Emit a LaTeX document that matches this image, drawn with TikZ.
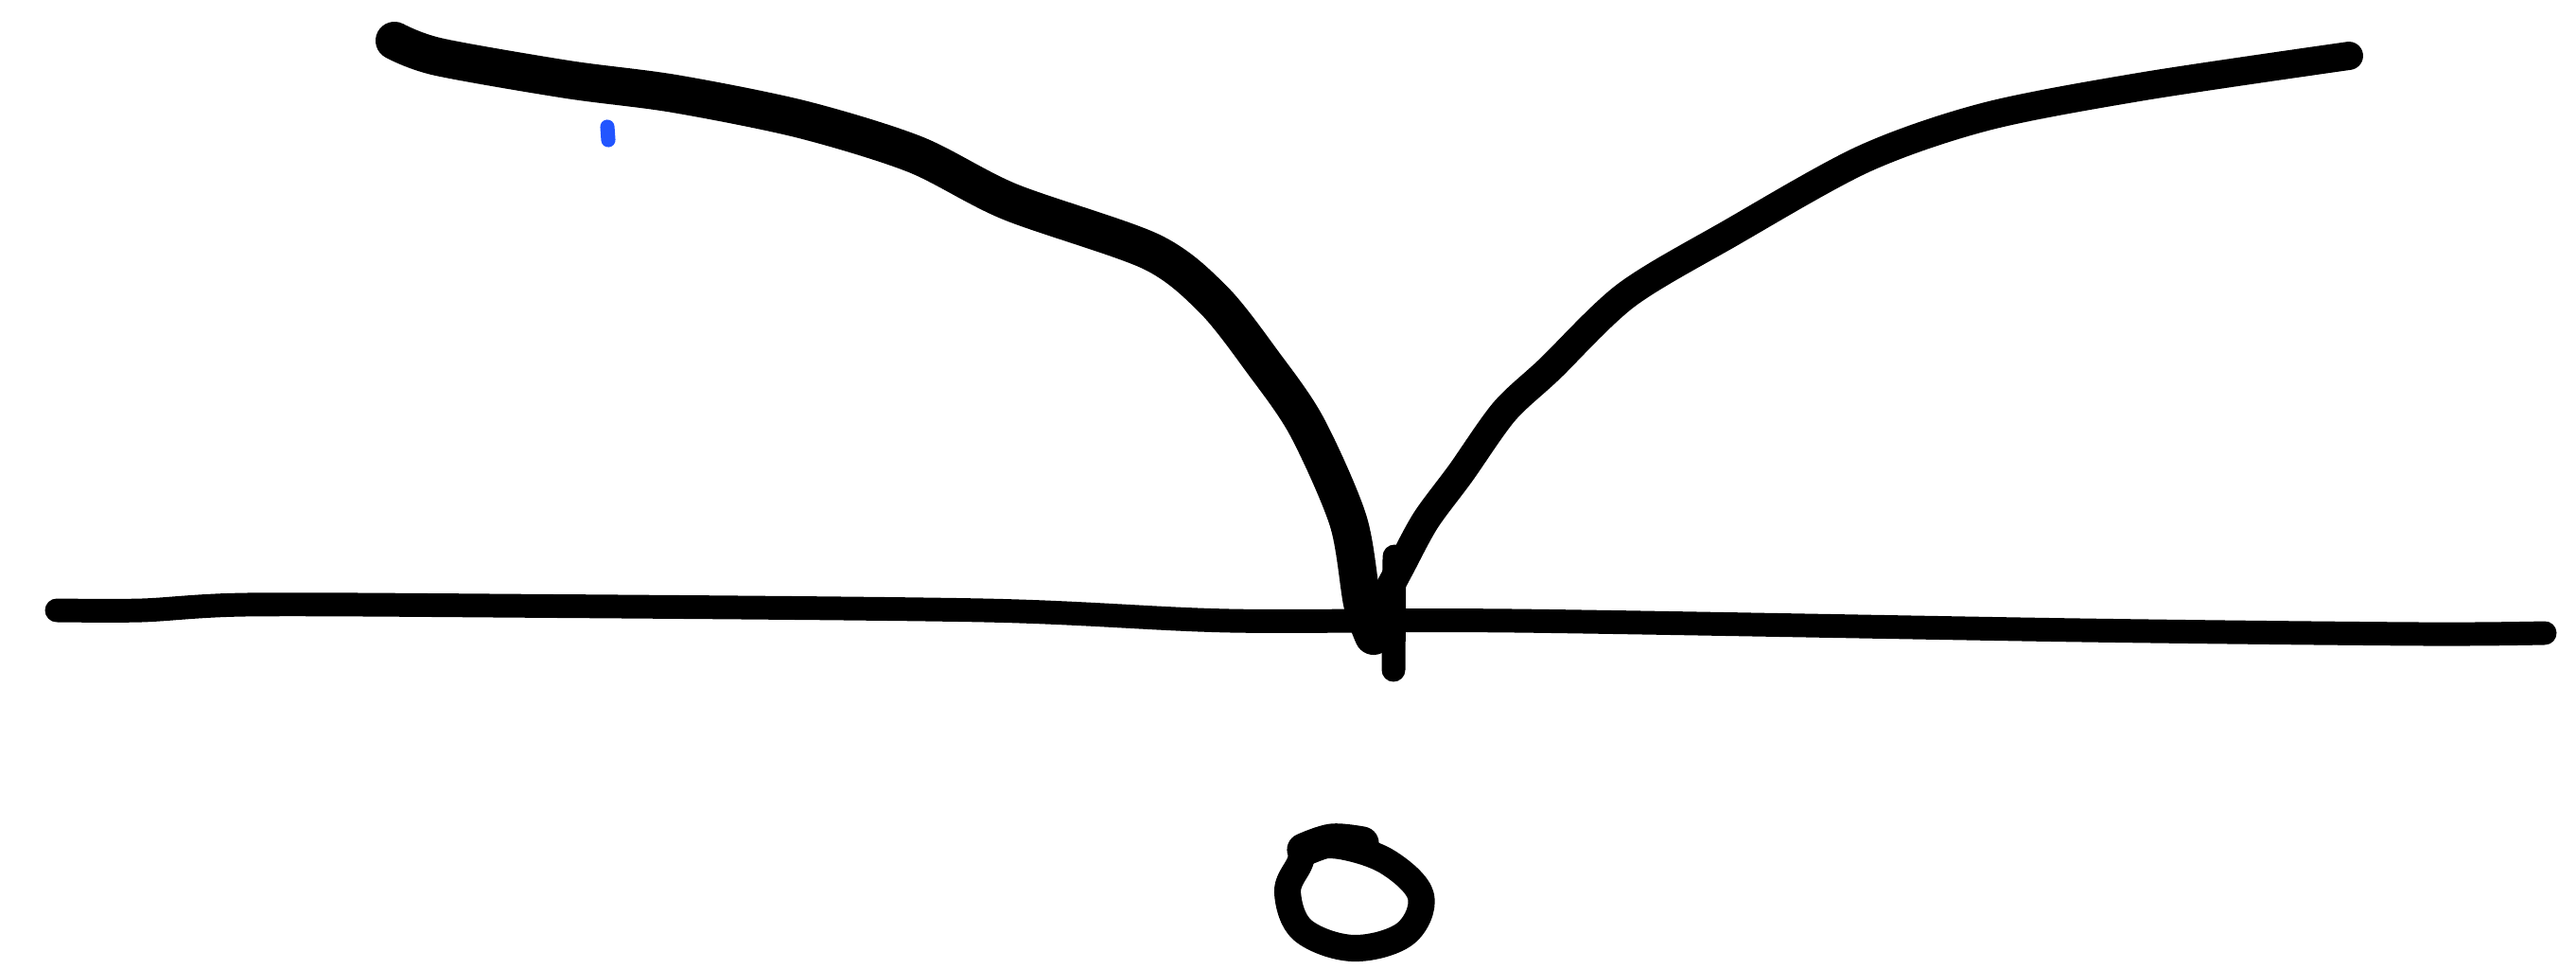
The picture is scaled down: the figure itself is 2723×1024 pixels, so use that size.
\documentclass[tikz,border=0pt]{standalone}
\usepackage{tikz}
\usetikzlibrary{positioning}
\usepackage{xcolor}
\definecolor{Ink}{HTML}{000000}
\definecolor{PenBlue}{HTML}{2255FF}
\tikzset{
  inkline/.style={draw=Ink, line width=#1, line cap=round, line join=round},
  inkline/.default={7pt},
}

\begin{document}
\begin{tikzpicture}[x=0.01cm, y=-0.01cm,
  penmark/.style={draw=PenBlue, line width=4.3pt, line cap=round},
]
  \useasboundingbox (0,0) rectangle (2723,1024);
  \coordinate (ticktop) at (1474,588);
  \coordinate (tickbot) at (1473,708);
  \coordinate (blueA) at (642,134);
  \coordinate (blueB) at (643,148);
  \draw[inkline=7.1pt] plot[smooth, tension=0.5] coordinates {(60,645) (150,645) (260,639)
    (520,640) (1040,645) (1300,656) (1600,656) (2200,666) (2560,670) (2690,669)};
  \draw[inkline=11.4pt] plot[smooth, tension=0.5] coordinates {(417,43) (463,60) (600,84) (713,99)
    (847,126) (967,163) (1067,213) (1217,266) (1283,317) (1335,383) (1381,450)
    (1425,550) (1440,637) (1452,672)};
  \draw[inkline=8.5pt] plot[smooth, tension=0.5] coordinates {(2483,59) (2267,91) (2100,123)
    (1970,168) (1828,247) (1719,312) (1638,390) (1590,435)
    (1544,500) (1507,550) (1480,600) (1463,632)};
  \draw[inkline=7.1pt] (ticktop) -- (tickbot);
  \draw[inkline=8pt] plot[smooth cycle, tension=0.6] coordinates {(1383,897) (1417,894) (1467,911)
    (1502,947) (1485,987) (1430,1002) (1377,983) (1361,943) (1373,914)};
  \draw[inkline=10pt] plot[smooth, tension=0.6] coordinates {(1378,898) (1408,888) (1440,891)};
  \draw[penmark] (blueA) -- (blueB);
\end{tikzpicture}
\end{document}
